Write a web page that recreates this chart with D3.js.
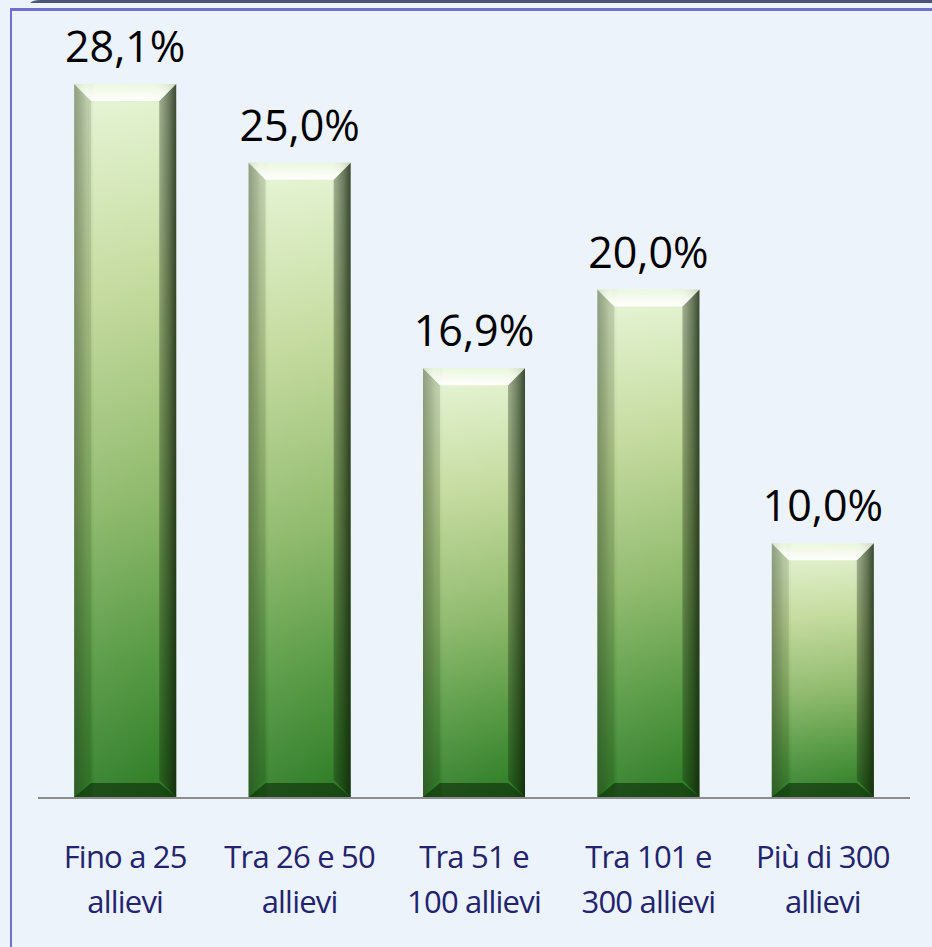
<!DOCTYPE html>
<meta charset="utf-8">
<title>Allievi</title>
<script src="https://d3js.org/d3.v7.min.js"></script>
<style>
    body { margin: 0; background: #ecf3fb; }
    svg { display: block; }
</style>
<body>
<script>

    // Data
    const categories = [
        ["Fino a 25", "allievi"],
        ["Tra 26 e 50", "allievi"],
        ["Tra 51 e", "100 allievi"],
        ["Tra 101 e", "300 allievi"],
        ["Più di 300", "allievi"]
    ];
    const values = [28.1, 25.0, 16.9, 20.0, 10.0];
    const valueLabels = ["28,1%", "25,0%", "16,9%", "20,0%", "10,0%"];

    // SVG constraints
    const width  = 932;
    const height = 947;
    const baseY  = 797;
    const bevel  = 17;

    const xScale = d3.scaleBand()
                     .domain(d3.range(values.length))
                     .range([38, 910])
                     .paddingInner(0.415)
                     .paddingOuter(0.2075);

    const yScale = d3.scaleLinear()
                     .domain([0, 28.1])
                     .range([baseY, 84]);

    const svg = d3.select("body")
                  .append("svg")
                  .attr("width", width)
                  .attr("height", height);

    const defs = svg.append("defs");

    // main fill of the bar, pale on top and dark green below
    const body = defs.append("linearGradient")
        .attr("id", "body").attr("x1", 0).attr("y1", 0).attr("x2", 0).attr("y2", 1);
    [[0, "#e6f5d4"], [0.3, "#c0d898"], [0.58, "#8cb868"], [0.8, "#549840"], [1, "#2a7a22"]]
        .forEach(s => body.append("stop").attr("offset", s[0]).attr("stop-color", s[1]));

    // horizontal shading to give the face a rounded look
    const shade = defs.append("linearGradient")
        .attr("id", "shade").attr("x1", 0).attr("y1", 0).attr("x2", 1).attr("y2", 0);
    [[0, "#000", 0.12], [0.12, "#000", 0.0], [0.2, "#fff", 0.08], [0.8, "#fff", 0.02], [0.9, "#000", 0.06], [1, "#000", 0.18]]
        .forEach(s => shade.append("stop").attr("offset", s[0]).attr("stop-color", s[1]).attr("stop-opacity", s[2]));

    const leftG = defs.append("linearGradient")
        .attr("id", "leftG").attr("x1", 0).attr("y1", 0).attr("x2", 1).attr("y2", 0);
    [[0, 0.4], [0.5, 0.3], [1, 0.16]]
        .forEach(s => leftG.append("stop").attr("offset", s[0]).attr("stop-color", "#3a4a30").attr("stop-opacity", s[1]));

    const rightG = defs.append("linearGradient")
        .attr("id", "rightG").attr("x1", 0).attr("y1", 0).attr("x2", 1).attr("y2", 0);
    [[0, 0.3], [0.6, 0.52], [1, 0.75]]
        .forEach(s => rightG.append("stop").attr("offset", s[0]).attr("stop-color", "#102008").attr("stop-opacity", s[1]));

    const topG = defs.append("linearGradient")
        .attr("id", "topG").attr("x1", 0).attr("y1", 0).attr("x2", 0).attr("y2", 1);
    [[0, 0.2], [0.7, 0.8], [1, 0.95]]
        .forEach(s => topG.append("stop").attr("offset", s[0]).attr("stop-color", "#ffffff").attr("stop-opacity", s[1]));

    // frame
    svg.append("path")
        .attr("d", "M30,3 Q33,0 40,0 L932,0 L932,3 Z")
        .attr("fill", "#4a5578");
    svg.append("rect").attr("x", 10).attr("y", 8).attr("width", width - 10).attr("height", 3).attr("fill", "#7070d0");
    svg.append("rect").attr("x", 10).attr("y", 8).attr("width", 2).attr("height", height - 8).attr("fill", "#7070d0");

    // Bars
    const bars = svg.append("g")
        .attr("id", "bars")
        .selectAll("g")
        .data(values)
        .enter()
        .append("g");

    const x0 = (d, i) => xScale(i);
    const x1 = (d, i) => xScale(i) + xScale.bandwidth();

    bars.append("rect")
        .attr("x", x0)
        .attr("y", d => yScale(d))
        .attr("width", xScale.bandwidth())
        .attr("height", d => baseY - yScale(d))
        .attr("fill", "url(#body)");

    bars.append("rect")
        .attr("x", x0)
        .attr("y", d => yScale(d))
        .attr("width", xScale.bandwidth())
        .attr("height", d => baseY - yScale(d))
        .attr("fill", "url(#shade)");

    // left facet
    bars.append("path")
        .attr("d", (d, i) => `M${x0(d, i)},${yScale(d)} L${x0(d, i) + bevel},${yScale(d) + bevel} L${x0(d, i) + bevel},${baseY - bevel} L${x0(d, i)},${baseY} Z`)
        .attr("fill", "url(#leftG)");

    // right facet
    bars.append("path")
        .attr("d", (d, i) => `M${x1(d, i)},${yScale(d)} L${x1(d, i) - bevel},${yScale(d) + bevel} L${x1(d, i) - bevel},${baseY - bevel} L${x1(d, i)},${baseY} Z`)
        .attr("fill", "url(#rightG)");

    // top facet
    bars.append("path")
        .attr("d", (d, i) => `M${x0(d, i)},${yScale(d)} L${x1(d, i)},${yScale(d)} L${x1(d, i) - bevel},${yScale(d) + bevel} L${x0(d, i) + bevel},${yScale(d) + bevel} Z`)
        .attr("fill", "url(#topG)");

    // bottom facet
    bars.append("path")
        .attr("d", (d, i) => `M${x0(d, i)},${baseY} L${x1(d, i)},${baseY} L${x1(d, i) - bevel},${baseY - bevel + 3} L${x0(d, i) + bevel},${baseY - bevel + 3} Z`)
        .attr("fill", "#0c2a08")
        .attr("fill-opacity", 0.6);

    // Axis line
    svg.append("line")
        .attr("x1", 38).attr("x2", 910)
        .attr("y1", baseY + 1).attr("y2", baseY + 1)
        .attr("stroke", "#8c8c8c")
        .attr("stroke-width", 2);

    // Value labels
    svg.append("g")
        .selectAll("text")
        .data(values)
        .enter()
        .append("text")
        .attr("x", (d, i) => xScale(i) + xScale.bandwidth() / 2)
        .attr("y", d => yScale(d) - 22)
        .attr("text-anchor", "middle")
        .attr("font-family", "'Open Sans', sans-serif")
        .attr("font-size", 43)
        .attr("fill", "#000")
        .text((d, i) => valueLabels[i]);

    // Category labels
    const cats = svg.append("g")
        .selectAll("text")
        .data(categories)
        .enter()
        .append("text")
        .attr("text-anchor", "middle")
        .attr("font-family", "'Open Sans', sans-serif")
        .attr("font-size", 31)
        .attr("fill", "#23236e")
        .attr("letter-spacing", -0.8);

    cats.selectAll("tspan")
        .data((d, i) => d.map(t => ({ t: t, i: i })))
        .enter()
        .append("tspan")
        .attr("x", d => xScale(d.i) + xScale.bandwidth() / 2)
        .attr("y", (d, j) => 868 + j * 45)
        .text(d => d.t);

</script>
</body>
